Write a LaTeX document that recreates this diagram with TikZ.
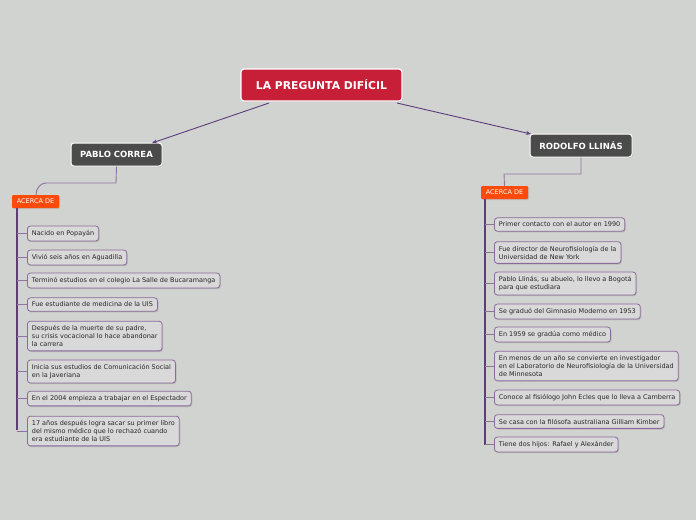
\documentclass[tikz,border=0pt]{standalone}
\usepackage{fontspec}
\setmainfont{DejaVu Sans}
\usetikzlibrary{shadows,arrows.meta}
\definecolor{bgc}{HTML}{D1D3D0}
\definecolor{titlered}{HTML}{C71F37}
\definecolor{subgray}{HTML}{4B4B4B}
\definecolor{acorange}{HTML}{FF4A0A}
\definecolor{itemfill}{HTML}{D9D9D9}
\definecolor{itemborder}{HTML}{8C6A9C}
\definecolor{linkpurple}{HTML}{5E3C7C}
\definecolor{branchpurple}{HTML}{8E73A0}
\tikzset{
  mainbox/.style={fill=titlered, draw=white, line width=1.2pt, rounded corners=3pt, text=white, font=\fontsize{10.8}{12}\selectfont\bfseries, minimum width=161pt, minimum height=32pt, inner sep=0pt, drop shadow={opacity=0.25,shadow xshift=1pt,shadow yshift=-1pt}},
  subbox/.style={fill=subgray, draw=white, line width=1pt, rounded corners=3pt, text=white, font=\fontsize{8.5}{10}\selectfont\bfseries, minimum height=23pt, inner sep=0pt, drop shadow={opacity=0.25,shadow xshift=1pt,shadow yshift=-1pt}},
  acbox/.style={fill=acorange, rounded corners=1pt, text=white, font=\fontsize{6.5}{7}\selectfont, minimum width=47pt, minimum height=13pt, inner sep=0pt, drop shadow={opacity=0.25,shadow xshift=1pt,shadow yshift=-1pt}},
  itembox/.style={fill=itemfill, draw=itemborder, line width=0.8pt, rounded corners=3pt, anchor=west, align=left, font=\fontsize{6.5}{8}\selectfont, text=black!85, inner xsep=4.5pt, inner ysep=4.2pt, drop shadow={opacity=0.3,shadow xshift=1pt,shadow yshift=-1.2pt}},
  mainlink/.style={draw=linkpurple, line width=0.9pt, -{Stealth[length=5pt,width=4pt]}},
  sublink/.style={draw=branchpurple, line width=0.9pt},
  vline/.style={draw=linkpurple, line width=1.1pt},
  branch/.style={draw=branchpurple, line width=0.8pt},
}
\begin{document}
\begin{tikzpicture}[x=1pt,y=-1pt]
\fill[bgc] (0,0) rectangle (696,520);
\useasboundingbox (0,0) rectangle (696,520);

\node[mainbox] (title) at (321.5,85) {LA PREGUNTA DIFÍCIL};
\node[subbox, minimum width=91pt] (pablo) at (116.5,154.5) {PABLO CORREA};
\node[subbox, minimum width=102pt] (rodolfo) at (581,145.5) {RODOLFO LLINÁS};

\coordinate (t1) at (269,103);
\coordinate (t2) at (397,103);
\draw[mainlink] (t1) -- (152,143) coordinate (p1);
\draw[mainlink] (t2) -- (531,134) coordinate (r1);

\node[acbox] (acL) at (35.5,201.5) {ACERCA DE};
\node[acbox] (acR) at (504.5,192.5) {ACERCA DE};

\draw[sublink] (pablo.south) -- (116,183) -- (46,183) to[out=180,in=90] (acL.north -| 36,0);
\draw[sublink] (rodolfo.south) -- (581,174) -- (504,174) -- (acR.north);

% left items
\node[itembox] (l1) at (27,233.5) {Nacido en Popayán};
\node[itembox] (l2) at (27,257.5) {Vivió seis años en Aguadilla};
\node[itembox] (l3) at (27,280.5) {Terminó estudios en el colegio La Salle de Bucaramanga};
\node[itembox] (l4) at (27,304.5) {Fue estudiante de medicina de la UIS};
\node[itembox] (l5) at (27,336) {Después de la muerte de su padre,\\su crisis vocacional lo hace abandonar\\la carrera};
\node[itembox] (l6) at (27,371.5) {Inicia sus estudios de Comunicación Social\\en la Javeriana};
\node[itembox] (l7) at (27,398.5) {En el 2004 empieza a trabajar en el Espectador};
\node[itembox] (l8) at (27,431) {17 años después logra sacar su primer libro\\del mismo médico que lo rechazó cuando\\era estudiante de la UIS};

\coordinate (lv) at (17,208);
\draw[vline] (lv) -- (17,430);
\foreach \n in {l1,l2,l3,l4,l5,l6,l7,l8} {\draw[branch] (lv |- \n.west) -- (\n.west);}

% right items
\node[itembox] (r1n) at (494,224.5) {Primer contacto con el autor en 1990};
\node[itembox] (r2n) at (494,252.5) {Fue director de Neurofisiología de la\\Universidad de New York};
\node[itembox] (r3n) at (494,283.5) {Pablo Llinás, su abuelo, lo llevo a Bogotá\\para que estudiara};
\node[itembox] (r4n) at (494,311.5) {Se graduó del Gimnasio Moderno en 1953};
\node[itembox] (r5n) at (494,334.5) {En 1959 se gradúa como médico};
\node[itembox] (r6n) at (494,366) {En menos de un año se convierte en investigador\\en el Laboratorio de Neurofisiología de la Universidad\\de Minnesota};
\node[itembox] (r7n) at (494,397.5) {Conoce al fisiólogo John Ecles que lo lleva a Camberra};
\node[itembox] (r8n) at (494,421.5) {Se casa con la filósofa australiana Gilliam Kimber};
\node[itembox] (r9n) at (494,444.5) {Tiene dos hijos: Rafael y Alexánder};

\coordinate (rv) at (485,199);
\draw[vline] (rv) -- (485,444.5);
\foreach \n in {r1n,r2n,r3n,r4n,r5n,r6n,r7n,r8n,r9n} {\draw[branch] (rv |- \n.west) -- (\n.west);}
\end{tikzpicture}
\end{document}
